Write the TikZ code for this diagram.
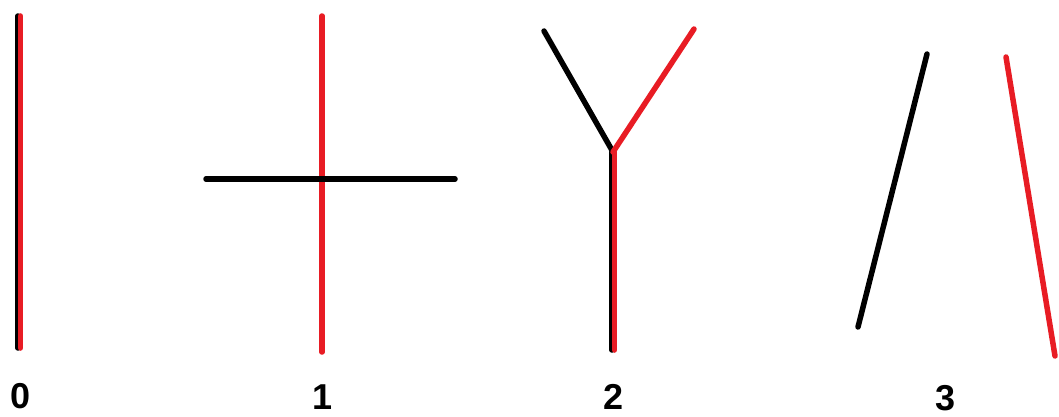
\documentclass[tikz,border=0pt]{standalone}
\usepackage{fontspec}
\setmainfont{Liberation Sans}
\begin{document}
\begin{tikzpicture}[x=1pt,y=-1pt,
  stroke/.style={line width=5.5pt,line cap=round},
  blk/.style={stroke,draw=black},
  rd/.style={stroke,draw={rgb,255:red,232;green,28;blue,36}},
  lbl/.style={font=\bfseries\fontsize{36}{38}\selectfont,inner sep=0pt}]
\useasboundingbox[fill=white] (0,0) rectangle (1059,417);
% 0
\coordinate (a0t) at (18,16); \coordinate (a0b) at (18,348);
\coordinate (b0t) at (20.5,16); \coordinate (b0b) at (20.5,348);
\draw[blk] (a0t) -- (a0b);
\draw[rd] (b0t) -- (b0b);
\node[lbl] (l0) at (21,396) {0};
% 1
\coordinate (r1t) at (322,16); \coordinate (r1b) at (322,352);
\coordinate (h1l) at (206,179); \coordinate (h1r) at (455,179);
\draw[rd] (r1t) -- (r1b);
\draw[blk] (h1l) -- (h1r);
\node[lbl] (l1) at (323,397) {1};
% 2
\coordinate (j2) at (613,152);
\coordinate (s2a) at (612,152); \coordinate (s2ab) at (612,350);
\coordinate (s2b) at (614.5,152); \coordinate (s2bb) at (614.5,350);
\coordinate (bl2) at (544,31); \coordinate (br2) at (694,29);
\draw[blk] (bl2) -- (j2);
\draw[blk] (s2a) -- (s2ab);
\draw[rd] (s2b) -- (s2bb);
\draw[rd] (br2) -- (j2);
\node[lbl] (l2) at (614,397) {2};
% 3
\coordinate (b3t) at (927,54); \coordinate (b3b) at (858,327);
\coordinate (r3t) at (1006,57); \coordinate (r3b) at (1055,356);
\draw[blk] (b3t) -- (b3b);
\draw[rd] (r3t) -- (r3b);
\node[lbl] (l3) at (945,398) {3};
\end{tikzpicture}
\end{document}
